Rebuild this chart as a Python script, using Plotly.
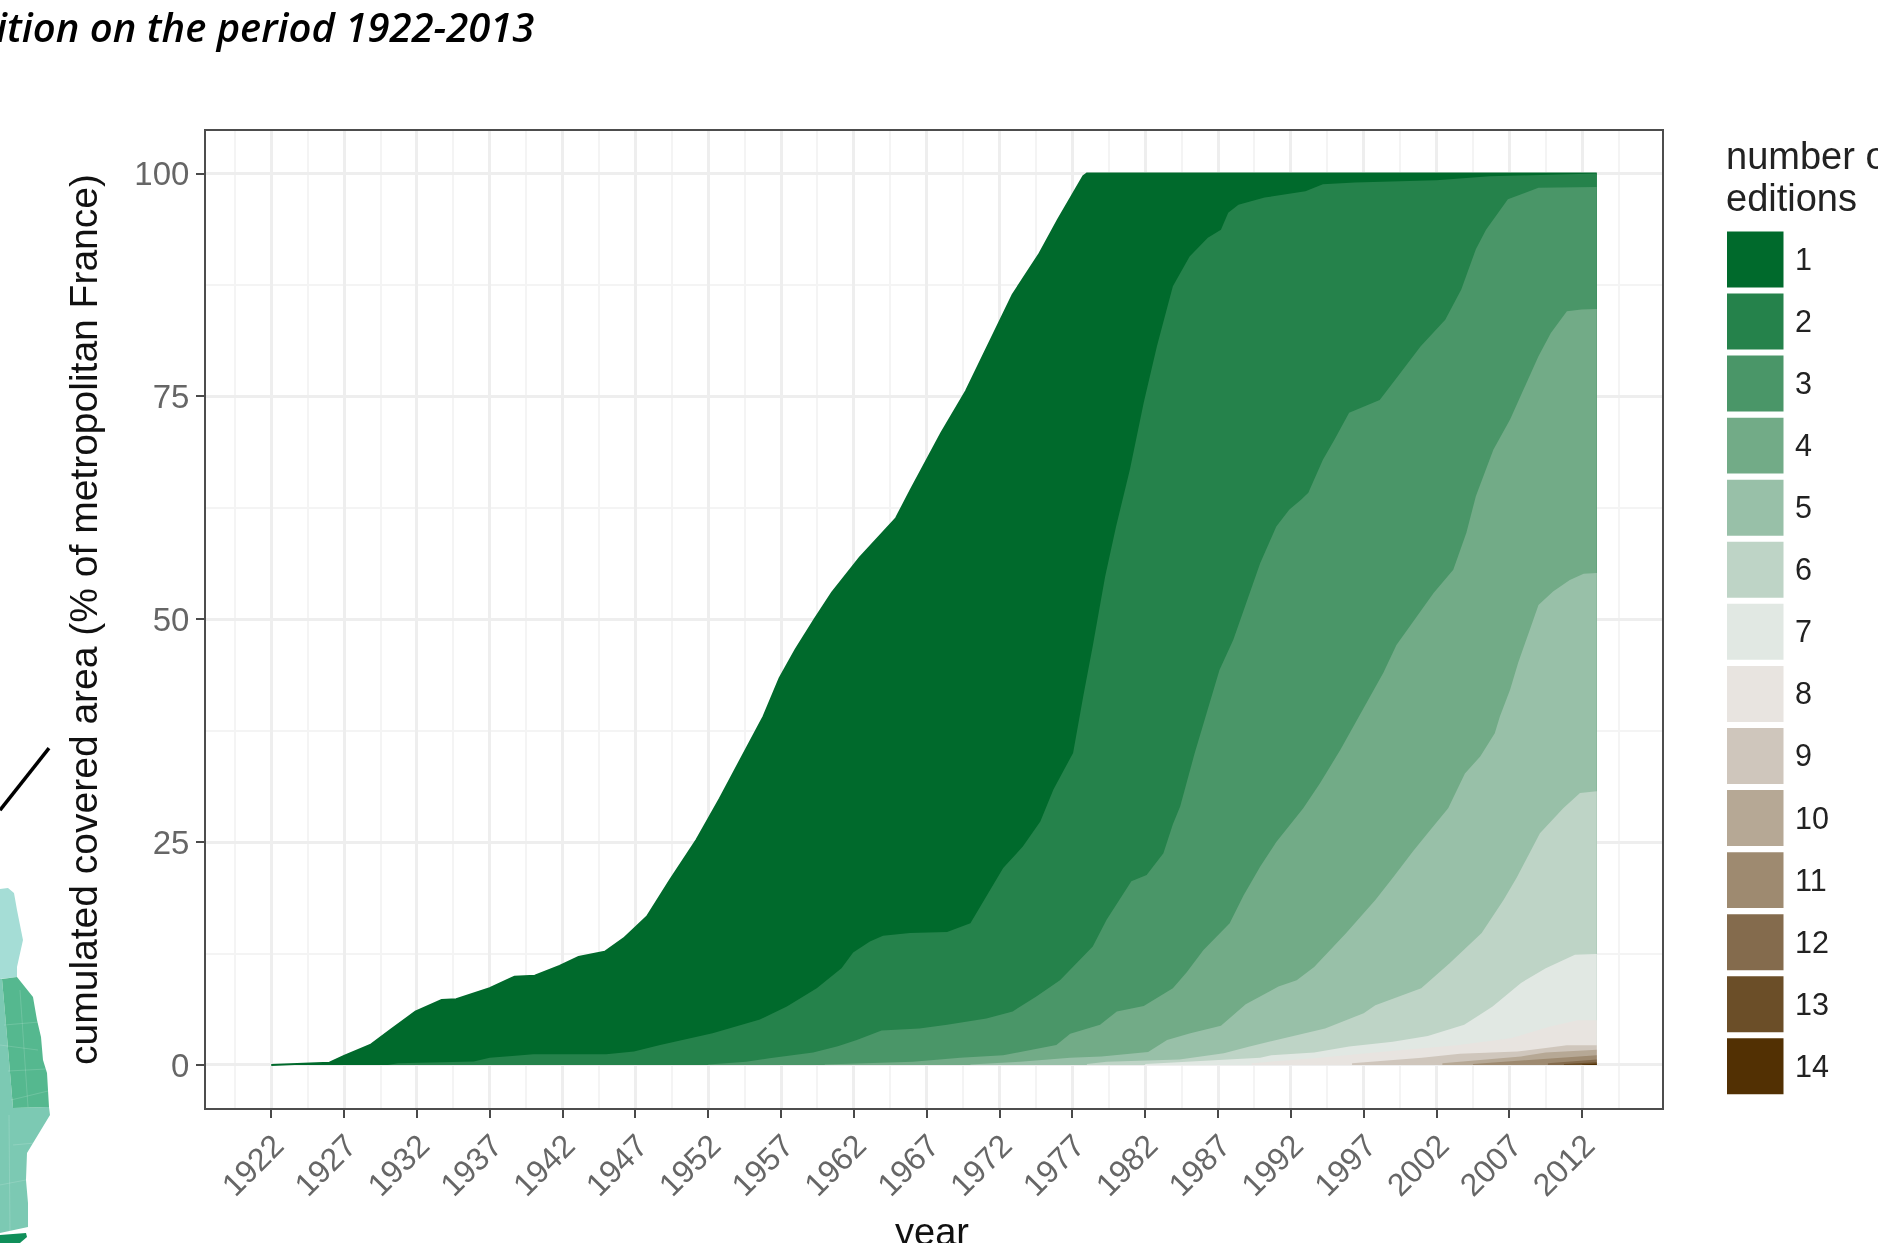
import plotly.graph_objects as go

# Cumulated covered area (% of metropolitan France) reached by at least n editions
editions = [str(n) for n in range(1, 15)]
colors = ["#006A2C", "#25824B", "#4A9668", "#72AB87", "#98C0A8", "#BED4C6", "#E1E8E3",
          "#E8E4E0", "#CFC6BC", "#B6A895", "#9E8A70", "#846B4D", "#6B4E28", "#523003"]

y1 = [1922,1926,1927,1928.8,1930.2,1931.9,1933.7,1934.7,1937,1938.7,1940.1,1941.8,1943.1,1944.9,1946.2,1947.8,1949.4,1951.2,1952.8,1954.6,1955.8,1956.9,1958,1959.3,1960.5,1962.4,1964.9,1965.9,1968,1969.7,1971.3,1972.9,1974.7,1976,1977.75,1978,2013]
v1 = [0,0.26,1,2.24,3.93,5.98,7.3,7.37,8.6,9.9,10,11.1,12.1,12.7,14.2,16.65,20.8,25.25,29.9,35.35,39.1,43.4,46.6,50,53,56.9,61.35,64.5,70.9,75.6,81,86.4,90.9,94.8,99.7,100,100]
y2 = [1930,1930.7,1935.9,1937,1940,1945,1946.9,1948.7,1952.3,1955.55,1957.4,1959.45,1961.15,1961.95,1963.1,1964,1965.85,1968.4,1970,1971.1,1972.25,1973.6,1974.8,1975.7,1977.05,1977.75,1978.4,1979.25,1980,1980.95,1981.9,1982.8,1983.9,1985.05,1986.3,1987.2,1987.7,1988.4,1990.2,1993,1994.2,1996.4,2002,2005.65,2013]
v2 = [0,.2,.38,.8,1.2,1.2,1.5,2.25,3.55,5.1,6.55,8.6,10.85,12.6,13.84,14.5,14.8,14.9,15.9,18.9,22.1,24.5,27.3,30.9,35,41.4,47,54.8,60.4,66.8,74.3,80.6,87.35,90.7,92.8,93.7,95.6,96.5,97.3,98,98.8,99,99.25,99.7,100]
y3 = [1952,1954.6,1956.2,1957.85,1959.2,1960.9,1962.2,1963.9,1966.5,1968.4,1971.1,1972.9,1974.5,1976.15,1977.5,1978.4,1979.35,1980.5,1981.05,1982.1,1983.25,1983.9,1984.4,1985.4,1986.2,1987.1,1988.05,1989,1989.9,1991,1991.9,1992.7,1993.2,1994.2,1995,1996,1998.1,1999.35,2000.9,2002.6,2003.7,2004.7,2005.4,2006.9,2009,2013]
v3 = [.05,.37,.75,1.1,1.4,2.1,2.8,3.85,4.1,4.5,5.2,6,7.65,9.5,11.8,13.3,16.3,19.3,20.6,21.3,23.75,27,29,35,39.5,44.3,47.7,52.2,56.3,60.4,62.3,63.4,64.2,67.9,70.15,73.15,74.6,77.25,80.6,83.6,87,91.5,93.7,97.1,98.4,98.5]
y4 = [1960,1966.05,1969.3,1972.25,1973.6,1975.9,1976.85,1978.9,1980.05,1981.9,1983.9,1984.85,1986,1987.8,1988.75,1989.9,1991,1992.85,1994,1995.4,1996.3,1997.2,1998.35,1999.25,2000.85,2001.8,2003.15,2004.05,2004.7,2005.9,2007.05,2008.2,2009,2009.85,2010.95,2011.95,2013]
v4 = [.05,.37,.8,1.1,1.5,2.25,3.5,4.5,6,6.6,8.6,10.4,12.9,15.9,19,22.25,25,28.8,31.6,35.35,38,40.6,44,47.1,50.7,52.95,55.55,59.7,63.8,69,72.4,76.5,79.5,82.1,84.55,84.75,84.8]
y5 = [1970,1973.4,1976.85,1979,1982.2,1983.5,1985.1,1987.2,1988.9,1991.15,1992.4,1993.6,1995.8,1997.8,1999,2000.4,2001.6,2002.8,2003.95,2005,2006,2006.35,2007.05,2007.6,2008.4,2009,2010,2011.15,2012.1,2013]
v5 = [.05,.37,.8,.95,1.45,2.8,3.55,4.4,6.8,8.8,9.5,11,14.8,18.5,21,24,26.4,28.8,32.7,34.6,37.2,39.1,42.1,45.1,48.8,51.6,53.1,54.4,55.1,55.2]
y6 = [1978,1979.35,1984.35,1987.4,1989.1,1992.1,1994.35,1997,1997.8,2000.95,2002.9,2005.1,2006.6,2007.5,2009.1,2010.7,2011.85,2013]
v6 = [.1,.37,.6,1.3,2.05,3.2,4.1,5.8,6.7,8.6,11.4,14.8,18.5,21,26,28.8,30.5,30.7]
y7 = [1982,1984.3,1989.9,1990.65,1993.6,1996,1999,2001.4,2003.9,2005.85,2007.8,2009.5,2011.5,2013]
v7 = [.1,.3,.8,1.1,1.4,2.06,2.6,3.25,4.5,6.55,9.2,10.85,12.35,12.45]
y8 = [1989.3,1993.6,1998.5,2003.4,2007.1,2009.8,2011.7,2013]
v8 = [.2,.75,1.5,2.2,3,4.3,5,5]
y9 = [1996.2,2001,2003.6,2007.55,2009.5,2010.95,2013]
v9 = [.2,.8,1.25,1.5,1.9,2.2,2.2]
y10 = [2002.4,2007.8,2009.5,2013]
v10 = [.2,.95,1.4,1.7]
y11 = [2004.5,2009,2013]
v11 = [.1,.65,1.1]
y12 = [2009.65,2013]
v12 = [.2,.6]
y13 = [2010.75,2013]
v13 = [.1,.3]
y14 = [2012,2013]
v14 = [.05,.12]

years_by_band = [y1, y2, y3, y4, y5, y6, y7, y8, y9, y10, y11, y12, y13, y14]
values_by_band = [v1, v2, v3, v4, v5, v6, v7, v8, v9, v10, v11, v12, v13, v14]

x_ticks = list(range(1922, 2013, 5))
y_ticks = [0, 25, 50, 75, 100]

title_text = "ition on the period 1922-2013"
y_title = "cumulated covered area (% of metropolitan France)"
x_title = "year"
legend_title_lines = ["number of", "editions"]

# Neighbouring map fragment at the left edge (page pixels)
map_parts = [
    ("#A5DDD6", [(0,889),(8,888),(14,893),(17,910),(23,940),(17,967),(17,977),(0,979)]),
    ("#7CC9B3", [(0,979),(2,979),(5,1013),(13,1108),(49,1107),(50,1115),(27,1153),(26,1180),(28,1203),(28,1227),(0,1233)]),
    ("#55B88F", [(2,979),(17,977),(33,997),(37,1020),(41,1037),(43,1060),(47,1073),(49,1107),(13,1108),(5,1013)]),
    ("#108F5A", [(0,1235),(26,1233),(27,1237),(20,1243),(0,1243)]),
]
map_seams = [[(4,1025),(39,1022)], [(8,1071),(46,1069)], [(11,1100),(48,1091)], [(20,990),(28,1107)],
             [(0,1045),(38,1050)], [(13,1145),(47,1142)], [(0,1185),(26,1180)], [(9,1115),(10,1233)]]
map_line = [(0, 810), (49, 748)]

PANEL_L, PANEL_R, PANEL_T, PANEL_B = 206, 1662, 130.5, 1108
W, H = 1878, 1243
def px(x): return (x - PANEL_L) / (PANEL_R - PANEL_L)
def py(y): return 1 - (y - PANEL_T) / (PANEL_B - PANEL_T)

fig = go.Figure()
for i, (yrs, vals) in enumerate(zip(years_by_band, values_by_band)):
    fig.add_trace(go.Scatter(x=yrs, y=vals, mode="lines", name=editions[i], fill="tozeroy",
                             fillcolor=colors[i], showlegend=False,
                             line=dict(color=colors[i], width=2 if i == 0 else 0)))

shapes, annotations = [], []
def path(points, close=True):
    d = "M" + " L".join(f"{px(a):.5f},{py(b):.5f}" for a, b in points)
    return d + (" Z" if close else "")

for col, pts in map_parts:
    shapes.append(dict(type="path", xref="paper", yref="paper", path=path(pts), fillcolor=col,
                       line=dict(width=0), layer="above"))
for seg in map_seams:
    shapes.append(dict(type="path", xref="paper", yref="paper", path=path(seg, False),
                       line=dict(width=1, color="rgba(255,255,255,0.15)"), layer="above"))
shapes.append(dict(type="path", xref="paper", yref="paper", path=path(map_line, False),
                   line=dict(width=3.5, color="#000000"), layer="above"))

# Legend keys
KEY_L, KEY_R, KEY_T, KEY_STEP, KEY_H = 1727, 1783.5, 231, 62.1, 56
for i, lab in enumerate(editions):
    t = KEY_T + i * KEY_STEP
    shapes.append(dict(type="rect", xref="paper", yref="paper", x0=px(KEY_L), x1=px(KEY_R),
                       y0=py(t), y1=py(t + KEY_H), fillcolor=colors[i], line=dict(width=0), layer="above"))
    annotations.append(dict(text=lab, xref="paper", yref="paper", x=px(1793), y=py(t + KEY_H / 2 - 0.5),
                            xanchor="left", yanchor="middle", showarrow=False,
                            font=dict(family="Liberation Sans", size=30.5, color="#222222")))
for line_text, line_y in zip(legend_title_lines, [156, 198]):
    annotations.append(dict(text=line_text, xref="paper", yref="paper", x=px(1724), y=py(line_y),
                            xanchor="left", yanchor="middle", align="left", showarrow=False,
                            font=dict(family="Liberation Sans", size=38, color="#222222")))
annotations.append(dict(text=title_text, xref="paper", yref="paper", x=px(536), y=py(26),
                        xanchor="right", yanchor="middle", showarrow=False,
                        font=dict(family="Open Sans", size=40, color="#000000", style="italic", weight=600)))
annotations.append(dict(text=x_title, xref="paper", yref="paper", x=px(932), y=py(1232),
                        xanchor="center", yanchor="middle", showarrow=False,
                        font=dict(family="Liberation Sans", size=38, color="#111111")))

GRID_MAJOR, GRID_MINOR = "#EEEEEE", "#F4F4F4"
fig.update_layout(
    width=W, height=H, autosize=False, paper_bgcolor="white", plot_bgcolor="white",
    margin=dict(l=PANEL_L, r=W - PANEL_R, t=PANEL_T, b=H - PANEL_B, autoexpand=False),
    shapes=shapes, annotations=annotations, showlegend=False,
    font=dict(family="Liberation Sans"),
    xaxis=dict(range=[1917.52, 2017.48], tickmode="array", tickvals=x_ticks, ticktext=[str(v) for v in x_ticks],
               tickangle=-45, ticks="outside", ticklen=8, tickwidth=2, tickcolor="#4A4A4A",
               ticklabelshift=3, ticklabelstandoff=-4,
               tickfont=dict(size=32, color="#666666"), showline=True, linecolor="#4D4D4D", linewidth=2, mirror=True,
               showgrid=True, gridcolor=GRID_MAJOR, gridwidth=2.5, zeroline=False,
               minor=dict(tick0=1919.5, dtick=5, showgrid=True, gridcolor=GRID_MINOR, gridwidth=1.5, ticks="")),
    yaxis=dict(range=[-4.83, 104.77], tickmode="array", tickvals=y_ticks, ticktext=[str(v) for v in y_ticks],
               ticks="outside", ticklen=8, tickwidth=2, tickcolor="#4A4A4A",
               tickfont=dict(size=33, color="#666666"), showline=True, linecolor="#4D4D4D", linewidth=2, mirror=True,
               showgrid=True, gridcolor=GRID_MAJOR, gridwidth=2.5, zeroline=False,
               minor=dict(tick0=12.5, dtick=25, showgrid=True, gridcolor=GRID_MINOR, gridwidth=1.5, ticks=""),
               title=dict(text=y_title, font=dict(size=39, color="#111111"), standoff=25)),
)

fig.write_html("out.html", config=dict(displayModeBar=False),
               post_script="document.body.style.margin='0';document.body.style.overflow='hidden';document.body.style.filter='blur(0.6px)';")
